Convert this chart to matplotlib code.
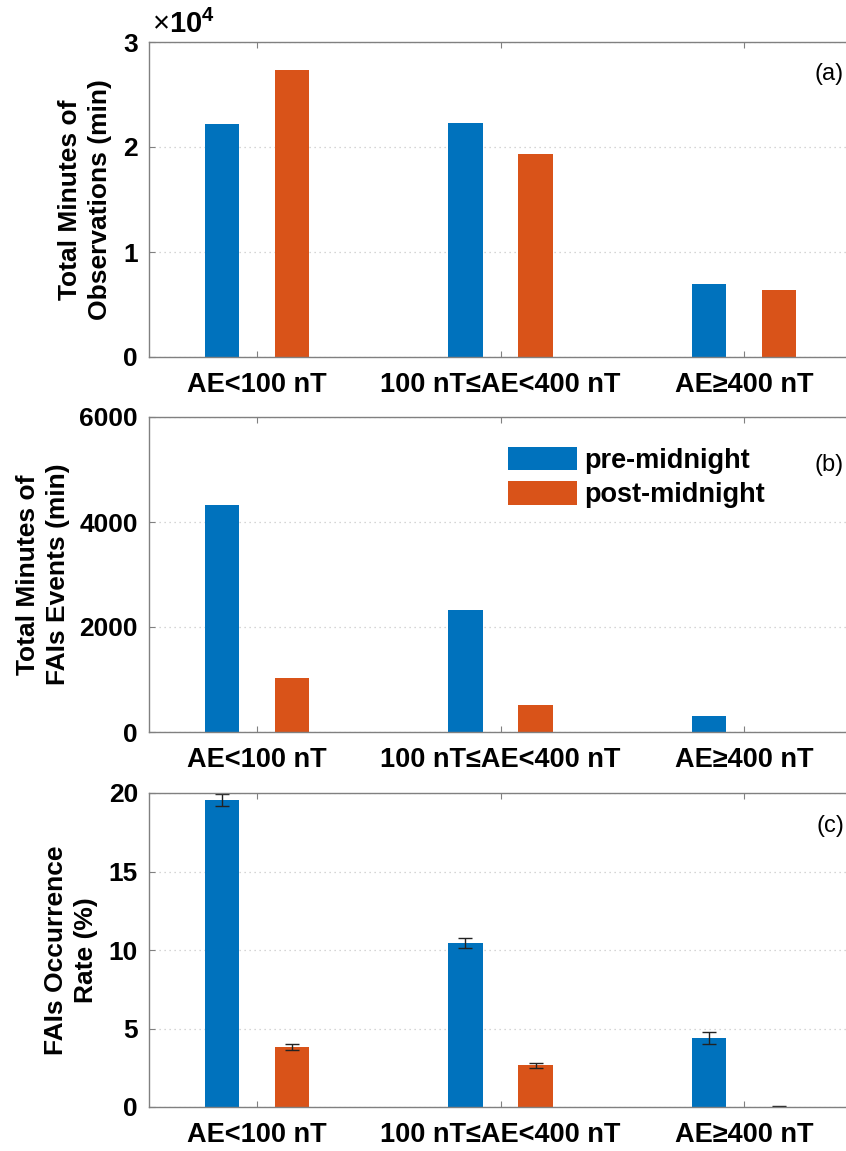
import matplotlib
matplotlib.use('Agg')
import matplotlib.pyplot as plt
import numpy as np

plt.rcParams['font.family'] = ['Liberation Sans', 'DejaVu Sans']
plt.rcParams['mathtext.fontset'] = 'custom'
plt.rcParams['mathtext.rm'] = 'Liberation Sans'
plt.rcParams['mathtext.bf'] = 'Liberation Sans:bold'

# data
groups = ['AE<100 nT', '100 nT\u2264AE<400 nT', 'AE\u2265400 nT']
series = ['pre-midnight', 'post-midnight']

obs_pre = [22200, 22300, 6950]
obs_post = [27300, 19300, 6400]

fai_pre = [4324, 2324, 305]
fai_post = [1029, 514, 0]

rate_pre = [19.55, 10.45, 4.42]
rate_post = [3.82, 2.65, 0.02]
rate_pre_err = [0.40, 0.30, 0.38]
rate_post_err = [0.20, 0.15, 0.02]

BLUE = '#0072BD'
ORANGE = '#D95319'
AXCOL = '#808080'
FS = 19.5
YFS = 19

W, H = 846, 1151
fig = plt.figure(figsize=(W / 100, H / 100), dpi=100)

ax_left = 149 / W
ax_width = (852 - 149) / W


def make_axes(top_px, bottom_px):
    return fig.add_axes([ax_left, 1 - bottom_px / H, ax_width, (bottom_px - top_px) / H])


def style_axes(ax, yticks, yticklabels, ylim):
    ax.set_xlim(0.556, 3.444)
    ax.set_ylim(*ylim)
    ax.set_xticks(np.arange(1, 4))
    ax.set_xticklabels(groups, fontsize=FS, fontweight='bold')
    ax.set_yticks(yticks)
    ax.set_yticklabels(yticklabels, fontsize=YFS, fontweight='bold')
    ax.tick_params(axis='x', direction='in', length=4, width=0.8, color=AXCOL,
                   top=True, pad=11)
    ax.tick_params(axis='y', direction='in', length=4, width=0.8, color=AXCOL,
                   right=True, pad=8)
    for s in ax.spines.values():
        s.set_color(AXCOL)
        s.set_linewidth(1.0)
    ax.yaxis.grid(True, linestyle=(0, (1, 3)), color='#c8c8c8', linewidth=0.9)
    ax.set_axisbelow(True)


x = np.arange(1, 4)
off = 0.144
bw = 0.142

# (a) total minutes of observations
ax1 = make_axes(42, 357)
ax1.bar(x - off, obs_pre, bw, color=BLUE, label=series[0])
ax1.bar(x + off, obs_post, bw, color=ORANGE, label=series[1])
style_axes(ax1, [0, 10000, 20000, 30000], ['0', '1', '2', '3'], (0, 30000))
ax1.set_ylabel('Total Minutes of\nObservations (min)', fontsize=YFS,
               fontweight='bold', linespacing=1.3)
ax1.yaxis.set_label_coords(-0.053, 0.5)
ax1.text(0.004, 1.008, r'$\times\mathbf{10}^{\mathbf{4}}$', transform=ax1.transAxes,
         fontsize=21, ha='left', va='bottom')
ax1.text(0.9886, 0.898, '(a)', transform=ax1.transAxes, fontsize=17,
         ha='right', va='center')

# (b) total minutes of FAIs events
ax2 = make_axes(417, 732)
ax2.bar(x - off, fai_pre, bw, color=BLUE, label=series[0])
ax2.bar(x + off, fai_post, bw, color=ORANGE, label=series[1])
style_axes(ax2, [0, 2000, 4000, 6000], ['0', '2000', '4000', '6000'], (0, 6000))
ax2.set_ylabel('Total Minutes of\nFAIs Events (min)', fontsize=YFS,
               fontweight='bold', linespacing=1.3)
ax2.yaxis.set_label_coords(-0.1125, 0.5)
ax2.text(0.9886, 0.848, '(b)', transform=ax2.transAxes, fontsize=17,
         ha='right', va='center')
leg = ax2.legend(loc='upper left', bbox_to_anchor=(0.511, 0.905), frameon=False,
                 prop={'size': FS, 'weight': 'bold'}, handlelength=2.55,
                 handleheight=0.95, handletextpad=0.25, labelspacing=0.28,
                 borderpad=0, borderaxespad=0)

# (c) occurrence rate
ax3 = make_axes(793, 1107)
ax3.bar(x - off, rate_pre, bw, color=BLUE, yerr=rate_pre_err,
        error_kw=dict(ecolor='#222222', elinewidth=1.0, capsize=5, capthick=1.0))
ax3.bar(x + off, rate_post, bw, color=ORANGE, yerr=rate_post_err,
        error_kw=dict(ecolor='#222222', elinewidth=1.0, capsize=5, capthick=1.0))
style_axes(ax3, [0, 5, 10, 15, 20], ['0', '5', '10', '15', '20'], (0, 20))
ax3.set_ylabel('FAIs Occurrence\nRate (%)', fontsize=YFS,
               fontweight='bold', linespacing=1.3)
ax3.yaxis.set_label_coords(-0.0726, 0.5)
ax3.text(0.9886, 0.895, '(c)', transform=ax3.transAxes, fontsize=17,
         ha='right', va='center')

fig.savefig('out.png', dpi=100)
